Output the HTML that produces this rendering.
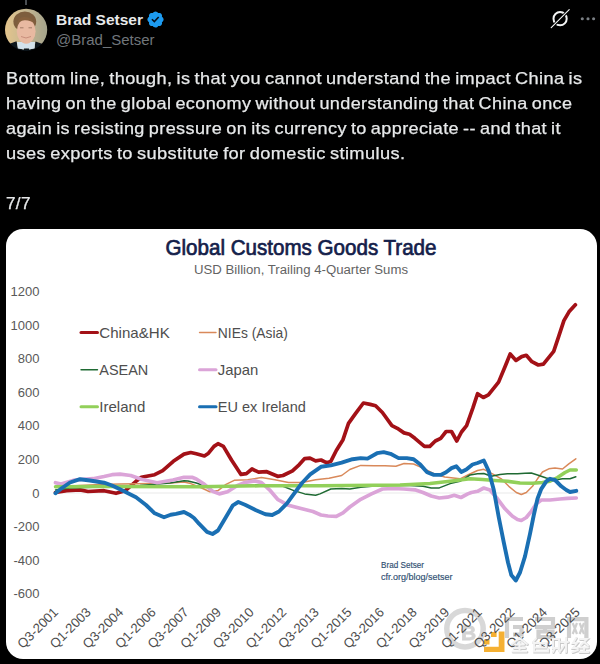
<!DOCTYPE html>
<html><head><meta charset="utf-8">
<style>
html,body{margin:0;padding:0;background:#000;}
body{width:600px;height:664px;position:relative;overflow:hidden;font-family:"Liberation Sans",sans-serif;}
#avatar{position:absolute;left:0px;top:4px;width:52px;height:52px;}
#name{position:absolute;left:56px;top:10.5px;font-size:15.5px;font-weight:bold;color:#e7e9ea;line-height:18px;white-space:nowrap;}
#handle{position:absolute;left:56px;top:31px;font-size:15px;color:#71767b;line-height:18px;white-space:nowrap;}
#badge{position:absolute;left:146.4px;top:9.6px;width:19px;height:19px;}
#grok{position:absolute;left:548px;top:7px;width:24px;height:24px;}
#dots{position:absolute;left:578px;top:16px;width:20px;height:6px;}
.tl{position:absolute;left:6px;font-size:16.6px;letter-spacing:.35px;word-spacing:-1.2px;-webkit-text-stroke:0.25px #e7e9ea;color:#e7e9ea;line-height:25px;white-space:nowrap;transform-origin:0 0;}
#card{position:absolute;left:6px;top:229px;width:591px;height:430px;background:#fff;border-radius:17px;}
#chart{position:absolute;left:0;top:0;width:600px;height:664px;}
</style></head><body>
<svg id="avatar" viewBox="0 0 52 52">
<defs><clipPath id="ac"><circle cx="26.1" cy="25.8" r="21.1"/></clipPath>
<linearGradient id="abg" x1="0" x2="1" y1="0" y2="0"><stop offset="0.1" stop-color="#e3c48c"/><stop offset="0.45" stop-color="#c9b992"/><stop offset="0.9" stop-color="#a5a48c"/></linearGradient>
<filter id="ab" x="-10%" y="-10%" width="120%" height="120%"><feGaussianBlur stdDeviation="0.7"/></filter></defs>
<g clip-path="url(#ac)"><g filter="url(#ab)">
<rect x="0" y="0" width="52" height="52" fill="url(#abg)"/>
<path d="M3,50 L3,43 Q9,39.5 16.5,37.2 L18,44 L26.5,46.5 L34.5,44 L35.5,37.5 Q43,39.5 49,43.5 L49,50Z" fill="#0d131a"/>
<path d="M17,38 L35,38 L34.6,44.6 L28.6,45.6 L26.5,44.4 L24.4,45.6 L17.8,44.6Z" fill="#d3e2ec"/>
<path d="M24,44.6 L29,44.6 L29.5,47.5 L23.5,47.5Z" fill="#10161d"/>
<ellipse cx="24.8" cy="17.6" rx="11.4" ry="10.2" fill="#7d5d3d"/>
<ellipse cx="26.2" cy="27.2" rx="9.4" ry="12.6" fill="#e8b9a1"/>
<path d="M16.8,22 Q17,13.5 24,13 Q31,12.5 35.6,20 Q30,15.8 24.5,16.2 Q19,16.6 16.8,22Z" fill="#86603e"/>
<path d="M21,32.5 Q26,35.5 31,32.5" stroke="#c98f7c" stroke-width="1" fill="none"/>
<path d="M20,23.8 h3.5 M28.5,23.8 h3.5" stroke="#9a7460" stroke-width="0.9" fill="none"/>
</g></g></svg>
<div style="position:absolute;left:25px;top:0;width:2px;height:4.5px;background:#4a4e52"></div>
<div id="name">Brad Setser</div>
<svg id="badge" viewBox="0 0 22 22"><path fill="#1d9bf0" d="M20.396 11c-.018-.646-.215-1.275-.57-1.816-.354-.54-.852-.972-1.438-1.246.223-.607.27-1.264.14-1.897-.131-.634-.437-1.218-.882-1.687-.47-.445-1.053-.75-1.687-.882-.633-.13-1.29-.083-1.897.14-.273-.587-.704-1.086-1.245-1.44S11.647 1.62 11 1.604c-.646.017-1.273.213-1.813.568s-.969.854-1.240 1.440c-.608-.223-1.267-.272-1.902-.14-.635.13-1.220.436-1.690.882-.445.47-.749 1.055-.878 1.688-.13.633-.08 1.290.144 1.896-.587.274-1.087.705-1.443 1.245-.356.540-.555 1.170-.574 1.817.02.647.218 1.276.574 1.817.356.540.856.972 1.443 1.245-.224.606-.274 1.263-.144 1.896.13.634.433 1.218.877 1.688.47.443 1.054.747 1.687.878.633.132 1.290.084 1.897-.136.274.586.705 1.084 1.246 1.439.54.354 1.170.551 1.816.569.647-.016 1.276-.213 1.817-.567s.972-.854 1.245-1.440c.604.239 1.266.296 1.903.164.636-.132 1.220-.447 1.680-.907.46-.46.776-1.044.908-1.681s.075-1.299-.165-1.903c.586-.274 1.084-.705 1.439-1.246.354-.54.551-1.170.569-1.816z"/><path fill="#04101c" d="M9.662 14.850l-3.429-3.428 1.293-1.302 2.072 2.072 4.400-4.794 1.347 1.246z"/></svg>
<div id="handle">@Brad_Setser</div>
<svg id="grok" viewBox="0 0 24 24"><circle cx="12.1" cy="11.7" r="6.6" fill="none" stroke="#f4f5f5" stroke-width="2"/><path d="M5 19 L19.5 4.5" stroke="#000" stroke-width="3"/><path d="M3.2,20.6 L12.2,11.6 L21.2,2.6" stroke="#f4f5f5" stroke-width="1.15" stroke-linecap="round"/></svg>
<svg id="dots" viewBox="0 0 20 6"><circle cx="4.3" cy="2.7" r="1.55" fill="#7a7f84"/><circle cx="10" cy="2.7" r="1.55" fill="#7a7f84"/><circle cx="15.6" cy="2.7" r="1.55" fill="#7a7f84"/></svg>
<div class="tl" style="top:65.6px;transform:scaleX(1.0938)" id="l1">Bottom line, though, is that you cannot understand the impact China is</div>
<div class="tl" style="top:90.6px;transform:scaleX(1.088)" id="l2">having on the global economy without understanding that China once</div>
<div class="tl" style="top:115.6px;transform:scaleX(1.0885)" id="l3">again is resisting pressure on its currency to appreciate -- and that it</div>
<div class="tl" style="top:140.6px;transform:scaleX(1.0998)" id="l4">uses exports to substitute for domestic stimulus.</div>
<div class="tl" style="top:190.6px;transform:scaleX(1.03)" id="l5">7/7</div>
<div id="card"></div>
<svg id="chart" viewBox="0 0 600 664">
<line x1="53" y1="493" x2="580" y2="493" stroke="#e3e3e3" stroke-width="0.8"/>
<polyline points="55.5,492.5 66.7,490.7 80.0,489.9 88.0,491.5 104.0,490.7 116.0,493.3 125.3,490.7 136.0,481.3 141.3,477.3 154.7,474.7 162.7,470.7 173.3,461.3 184.0,454.1 190.7,452.5 196.3,453.8 204.4,456.0 208.5,453.2 214.0,446.4 218.0,443.7 223.4,446.4 231.5,460.0 241.0,474.4 246.4,473.6 252.0,469.0 258.6,472.2 266.8,471.7 277.6,476.3 283.0,475.5 292.5,470.8 299.3,464.6 304.7,458.6 310.0,458.1 315.6,460.8 321.0,460.0 326.4,462.7 330.8,461.4 336.3,450.5 343.0,439.7 348.5,423.4 355.3,413.9 363.4,403.0 370.2,404.4 375.6,405.8 382.4,412.5 391.9,425.6 397.3,428.3 404.0,432.9 409.5,434.2 414.9,438.3 424.4,446.4 429.8,446.4 435.3,441.0 440.7,438.3 446.1,431.5 451.5,431.5 456.8,441.0 461.5,432.0 466.6,425.7 473.0,407.7 477.6,393.7 483.3,397.5 488.4,394.9 498.6,382.1 505.0,366.8 510.2,354.0 516.0,360.4 521.7,356.6 526.3,355.3 531.9,361.7 538.3,365.0 543.4,364.2 553.7,351.4 558.8,336.1 563.9,320.7 569.0,311.8 575.4,304.8" fill="none" stroke="#a31117" stroke-width="3.7" stroke-linejoin="round" stroke-linecap="round"/>
<polyline points="55.5,487.0 80.0,485.5 100.0,484.5 120.0,484.0 150.0,483.5 170.0,483.0 184.0,481.9 190.8,483.6 201.7,488.0 209.8,491.7 218.0,490.6 226.0,484.4 234.2,480.3 247.8,479.8 261.4,477.6 274.9,479.8 288.5,482.5 302.0,482.5 315.6,479.8 329.0,478.2 341.7,475.5 349.8,469.5 360.7,465.4 374.2,465.7 385.0,465.7 395.9,466.2 404.0,463.5 413.6,464.0 423.0,468.1 433.9,473.6 444.7,477.0 455.6,478.2 460.0,478.8 468.8,474.5 477.5,470.5 483.8,469.3 492.5,473.8 501.3,478.8 508.8,486.3 516.3,492.5 521.3,494.5 526.3,492.5 532.5,486.3 537.5,478.8 542.5,472.0 548.8,468.8 555.0,468.0 562.5,469.0 568.8,463.8 575.8,458.8" fill="none" stroke="#d9895a" stroke-width="1.5" stroke-linejoin="round" stroke-linecap="round"/>
<polyline points="55.5,490.0 70.0,488.0 100.0,487.0 140.0,485.5 170.0,483.0 184.0,480.8 188.0,480.9 196.3,483.0 204.4,485.8 230.0,486.5 260.0,484.5 283.0,486.3 293.9,490.6 304.7,493.9 315.6,495.3 320.0,493.9 330.8,489.0 341.7,488.5 349.8,489.0 360.7,487.2 372.0,486.3 390.0,485.6 410.0,485.6 423.0,486.3 431.2,487.9 439.3,487.9 450.2,483.6 460.0,481.3 470.0,475.0 477.5,473.8 483.8,473.5 491.3,476.3 500.0,474.5 507.5,473.8 517.5,473.8 525.0,473.3 531.3,473.0 537.5,475.0 546.3,478.0 555.0,480.0 562.5,478.8 570.0,478.8 575.8,476.8" fill="none" stroke="#1f6a33" stroke-width="1.5" stroke-linejoin="round" stroke-linecap="round"/>
<polyline points="55.5,482.7 61.0,484.0 74.7,480.0 93.0,478.7 104.0,476.5 112.0,474.7 120.0,474.1 130.7,475.5 141.3,479.2 157.0,482.7 173.0,480.0 184.0,477.3 192.0,477.3 196.3,479.0 204.4,484.4 212.5,491.2 219.3,493.9 227.5,491.7 237.0,485.8 245.0,482.5 254.6,480.9 261.4,482.5 269.5,489.8 277.6,499.3 288.5,505.3 302.0,508.8 312.9,511.5 321.0,515.0 328.0,516.0 336.3,516.4 343.0,512.9 349.8,507.0 360.7,499.3 371.5,493.9 382.4,489.0 393.2,488.5 404.0,489.0 414.9,489.8 423.0,492.5 431.2,496.0 439.3,498.0 447.5,497.2 454.2,495.3 461.0,497.5 467.8,493.9 471.3,492.5 477.5,491.3 483.8,488.0 490.0,490.0 497.5,498.8 505.0,508.8 512.5,516.3 517.5,519.5 521.3,520.5 526.3,517.5 531.3,511.3 536.3,503.8 541.3,500.0 550.0,500.0 560.0,499.0 567.5,498.3 576.3,498.0" fill="none" stroke="#dba4d8" stroke-width="3.7" stroke-linejoin="round" stroke-linecap="round"/>
<polyline points="55.5,486.8 100.0,486.6 200.0,486.8 260.0,485.8 320.0,485.8 400.0,485.0 430.0,483.5 450.0,481.3 460.0,480.0 470.0,478.8 482.5,479.5 495.0,480.5 507.5,481.3 520.0,483.0 532.5,483.3 542.5,482.5 550.0,481.3 557.5,477.5 565.0,472.5 570.0,470.0 576.3,470.0" fill="none" stroke="#92d05a" stroke-width="3.5" stroke-linejoin="round" stroke-linecap="round"/>
<polyline points="55.5,493.3 62.0,488.0 70.0,482.5 80.0,479.2 90.0,480.5 104.0,482.7 112.0,485.5 120.0,489.3 136.0,497.3 146.0,505.0 154.7,513.3 164.0,517.3 170.7,514.7 176.0,513.9 184.0,512.0 189.3,514.7 194.0,518.0 199.0,523.7 207.0,531.9 212.5,534.0 218.0,530.5 226.0,517.0 232.9,505.3 238.3,502.0 245.0,504.7 256.0,510.2 265.4,514.2 272.2,515.0 279.0,511.5 287.0,503.4 293.9,493.9 302.0,483.0 310.2,474.4 321.0,466.8 330.8,465.4 341.7,462.7 352.5,459.2 360.7,458.1 367.5,458.6 377.0,453.2 383.7,452.1 390.5,453.8 398.6,458.1 406.8,458.1 413.6,459.2 420.3,464.6 427.1,472.2 433.9,474.9 440.7,474.9 446.1,472.2 451.5,468.1 456.3,466.3 461.3,472.0 466.3,469.5 472.5,464.5 477.5,463.0 483.8,460.5 488.8,471.3 493.8,490.0 498.8,517.5 503.8,542.5 508.0,562.5 511.3,575.0 515.8,580.5 520.0,572.5 525.0,556.3 530.0,533.8 533.8,515.0 537.5,498.8 541.3,488.8 546.3,481.3 550.0,478.8 555.0,480.0 561.3,486.3 566.3,490.0 570.0,492.0 576.3,490.8" fill="none" stroke="#1a6fb3" stroke-width="3.9" stroke-linejoin="round" stroke-linecap="round"/>
<text x="301" y="255" text-anchor="middle" font-size="21.5" fill="#14204a" stroke="#14204a" stroke-width="0.7" textLength="271" lengthAdjust="spacingAndGlyphs">Global Customs Goods Trade</text>
<text x="301" y="273.5" text-anchor="middle" font-size="12.5" fill="#636363" textLength="214" lengthAdjust="spacingAndGlyphs">USD Billion, Trailing 4-Quarter Sums</text>
<text x="39.5" y="295.6" text-anchor="end" font-size="13" fill="#595959">1200</text>
<text x="39.5" y="329.6" text-anchor="end" font-size="13" fill="#595959">1000</text>
<text x="39.5" y="362.6" text-anchor="end" font-size="13" fill="#595959">800</text>
<text x="39.5" y="396.6" text-anchor="end" font-size="13" fill="#595959">600</text>
<text x="39.5" y="429.6" text-anchor="end" font-size="13" fill="#595959">400</text>
<text x="39.5" y="463.6" text-anchor="end" font-size="13" fill="#595959">200</text>
<text x="39.5" y="497.6" text-anchor="end" font-size="13" fill="#595959">0</text>
<text x="39.5" y="530.6" text-anchor="end" font-size="13" fill="#595959">-200</text>
<text x="39.5" y="564.6" text-anchor="end" font-size="13" fill="#595959">-400</text>
<text x="39.5" y="597.6" text-anchor="end" font-size="13" fill="#595959">-600</text>
<g opacity="0.9">
<circle cx="465" cy="628.7" r="18.2" fill="none" stroke="#d4d4d4" stroke-width="5.5"/>
<text x="468.5" y="639.5" text-anchor="middle" font-size="21" font-weight="bold" fill="#d0d0d0" stroke="#d0d0d0" stroke-width="0.8">B</text>
<path d="M498.7,631.5 H504.5 V652 H484 V646.7 H498.7Z M491,632 h5.6 v5 h-5.6Z M484,639.6 h5.5 v5 h-5.5Z" fill="#f5a81c"/>
<g fill="none" stroke="#cacaca" stroke-width="4.2"><path d="M505,619 H523 M507,618 V638 M513,627 H521.5 V634.5 H513"/><path d="M535,619 H553 V627 H535 M538.5,631.5 H552.5 V637 H538.5Z M545,626 V631"/><path d="M569,638 V619.2 H586.4 V638"/></g>
<g fill="none" stroke="#cacaca" stroke-width="2.2"><path d="M572.7,623 L577,634 M577,623 L572.7,634 M579.6,623 L584,634 M584,623 L579.6,634"/></g>
</g>
<text transform="translate(59.0,613) rotate(-45)" text-anchor="end" font-size="13.2" fill="#4d4d4d">Q3-2001</text>
<text transform="translate(91.6,613) rotate(-45)" text-anchor="end" font-size="13.2" fill="#4d4d4d">Q1-2003</text>
<text transform="translate(124.2,613) rotate(-45)" text-anchor="end" font-size="13.2" fill="#4d4d4d">Q3-2004</text>
<text transform="translate(156.8,613) rotate(-45)" text-anchor="end" font-size="13.2" fill="#4d4d4d">Q1-2006</text>
<text transform="translate(189.4,613) rotate(-45)" text-anchor="end" font-size="13.2" fill="#4d4d4d">Q3-2007</text>
<text transform="translate(222.0,613) rotate(-45)" text-anchor="end" font-size="13.2" fill="#4d4d4d">Q1-2009</text>
<text transform="translate(254.6,613) rotate(-45)" text-anchor="end" font-size="13.2" fill="#4d4d4d">Q3-2010</text>
<text transform="translate(287.2,613) rotate(-45)" text-anchor="end" font-size="13.2" fill="#4d4d4d">Q1-2012</text>
<text transform="translate(319.8,613) rotate(-45)" text-anchor="end" font-size="13.2" fill="#4d4d4d">Q3-2013</text>
<text transform="translate(352.4,613) rotate(-45)" text-anchor="end" font-size="13.2" fill="#4d4d4d">Q1-2015</text>
<text transform="translate(385.0,613) rotate(-45)" text-anchor="end" font-size="13.2" fill="#4d4d4d">Q3-2016</text>
<text transform="translate(417.6,613) rotate(-45)" text-anchor="end" font-size="13.2" fill="#4d4d4d">Q1-2018</text>
<text transform="translate(450.2,613) rotate(-45)" text-anchor="end" font-size="13.2" fill="#4d4d4d">Q3-2019</text>
<text transform="translate(482.8,613) rotate(-45)" text-anchor="end" font-size="13.2" fill="#4d4d4d">Q1-2021</text>
<text transform="translate(515.4,613) rotate(-45)" text-anchor="end" font-size="13.2" fill="#4d4d4d">Q3-2022</text>
<text transform="translate(548.0,613) rotate(-45)" text-anchor="end" font-size="13.2" fill="#4d4d4d">Q1-2024</text>
<text transform="translate(580.6,613) rotate(-45)" text-anchor="end" font-size="13.2" fill="#4d4d4d">Q3-2025</text>
<g fill="none" stroke="#c4c4c4" stroke-width="2.6" stroke-linecap="round" transform="translate(0.6,0.7)" opacity="0.9"><path d="M519.5,638 L512,644 M519.5,638 L527,644 M515,644.5 H524 M514,648 H525 M512.5,651.5 H526.5 M519.5,642 V651.5"/><path d="M536,638.5 L533,642 M534,643 H546 V647.5 H534Z M540,643 V647.5 M534,647.5 V651.5 H548 V649"/><path d="M553,639 H559 V648 H553Z M555,648 L553,652 M558,648 L560,652 M561,642 H568 M566,638 V652 M565.5,643 L561,650"/><path d="M576,638 L573,643 L577,643 L573,648 H578 M572.5,652 L578,650 M580,639 H587 L581,645 M584,642 L588,645.5 M580,647.5 H588 M584,647.5 V652 M579.5,652 H588.5"/></g>
<g fill="none" stroke="#f4f4f4" stroke-width="1.9" stroke-linecap="round"><path d="M519.5,638 L512,644 M519.5,638 L527,644 M515,644.5 H524 M514,648 H525 M512.5,651.5 H526.5 M519.5,642 V651.5"/><path d="M536,638.5 L533,642 M534,643 H546 V647.5 H534Z M540,643 V647.5 M534,647.5 V651.5 H548 V649"/><path d="M553,639 H559 V648 H553Z M555,648 L553,652 M558,648 L560,652 M561,642 H568 M566,638 V652 M565.5,643 L561,650"/><path d="M576,638 L573,643 L577,643 L573,648 H578 M572.5,652 L578,650 M580,639 H587 L581,645 M584,642 L588,645.5 M580,647.5 H588 M584,647.5 V652 M579.5,652 H588.5"/></g>
<line x1="81" y1="332.5" x2="97.5" y2="332.5" stroke="#a31117" stroke-width="3.0" stroke-linecap="round"/>
<text x="99.3" y="337.5" font-size="14.2" fill="#4e4e4e" textLength="70.5" lengthAdjust="spacingAndGlyphs">China&amp;HK</text>
<line x1="199.5" y1="332.5" x2="216.0" y2="332.5" stroke="#d9895a" stroke-width="1.4" stroke-linecap="round"/>
<text x="217.8" y="337.5" font-size="14.2" fill="#4e4e4e" textLength="70" lengthAdjust="spacingAndGlyphs">NIEs (Asia)</text>
<line x1="81" y1="369.7" x2="97.5" y2="369.7" stroke="#1f6a33" stroke-width="1.4" stroke-linecap="round"/>
<text x="99.3" y="374.7" font-size="14.2" fill="#4e4e4e" textLength="49" lengthAdjust="spacingAndGlyphs">ASEAN</text>
<line x1="199.5" y1="369.7" x2="216.0" y2="369.7" stroke="#dba4d8" stroke-width="3.0" stroke-linecap="round"/>
<text x="217.8" y="374.7" font-size="14.2" fill="#4e4e4e" textLength="40.5" lengthAdjust="spacingAndGlyphs">Japan</text>
<line x1="81" y1="406.7" x2="97.5" y2="406.7" stroke="#92d05a" stroke-width="3.0" stroke-linecap="round"/>
<text x="99.3" y="411.7" font-size="14.2" fill="#4e4e4e" textLength="46" lengthAdjust="spacingAndGlyphs">Ireland</text>
<line x1="199.5" y1="406.7" x2="216.0" y2="406.7" stroke="#1a6fb3" stroke-width="3.0" stroke-linecap="round"/>
<text x="217.8" y="411.7" font-size="14.2" fill="#4e4e4e" textLength="88" lengthAdjust="spacingAndGlyphs">EU ex Ireland</text>
<text x="381" y="568.3" font-size="9" fill="#2f4f72" stroke="#2f4f72" stroke-width="0.15" textLength="43" lengthAdjust="spacingAndGlyphs">Brad Setser</text>
<text x="381" y="580.3" font-size="9" fill="#2f4f72" stroke="#2f4f72" stroke-width="0.15" textLength="71.5" lengthAdjust="spacingAndGlyphs">cfr.org/blog/setser</text>
</svg>
</body></html>
